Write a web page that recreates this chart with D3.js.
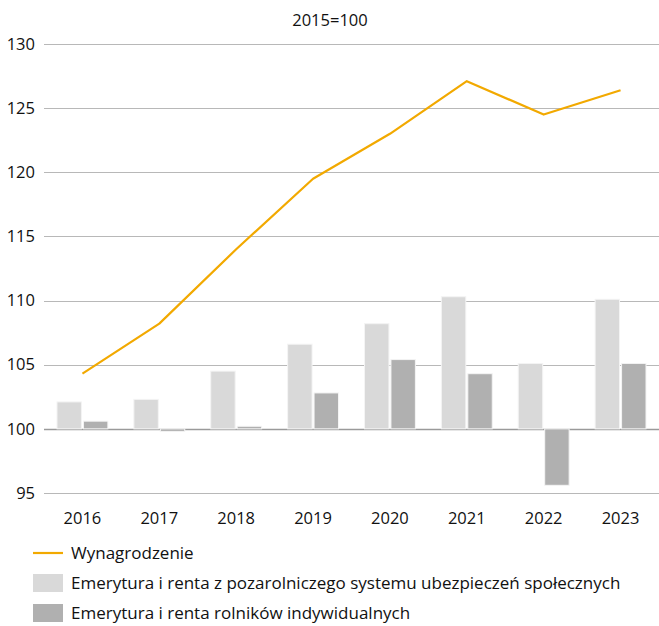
<!DOCTYPE html>
<html>
<head>
<meta charset="utf-8">
<script src="https://cdn.jsdelivr.net/npm/d3@7"></script>
<style>
  body { margin: 0; background: #fff; }
  svg { display: block; font-family: "Open Sans", sans-serif; }
</style>
</head>
<body>
<div id="chart"></div>
<script>
// data
var years = ["2016", "2017", "2018", "2019", "2020", "2021", "2022", "2023"];
var wages = [104.3, 108.2, 114.0, 119.5, 123.0, 127.1, 124.5, 126.4];
var pensionNonAgri = [102.1, 102.3, 104.5, 106.6, 108.2, 110.3, 105.1, 110.1];
var pensionFarmers = [100.6, 99.8, 100.2, 102.8, 105.4, 104.3, 95.6, 105.1];
var yTicks = [95, 100, 105, 110, 115, 120, 125, 130];
var legendLabels = [
    "Wynagrodzenie",
    "Emerytura i renta z pozarolniczego systemu ubezpieczeń społecznych",
    "Emerytura i renta rolników indywidualnych"
];

var width = 659, height = 626;
var margin = {top: 44, right: 0, bottom: 133, left: 44};

var svg = d3.select("#chart").append("svg")
    .attr("width", width)
    .attr("height", height);

var x = d3.scaleBand()
    .domain(years)
    .range([margin.left, width - margin.right]);

var y = d3.scaleLinear()
    .domain([95, 130])
    .range([height - margin.bottom, margin.top]);

// subtitle
svg.append("text")
    .attr("x", 330)
    .attr("y", 26)
    .attr("text-anchor", "middle")
    .style("font-size", "16.5px")
    .style("fill", "#111")
    .text("2015=100");

// gridlines
svg.append("g").selectAll("line")
    .data(yTicks)
    .enter().append("line")
    .attr("x1", margin.left)
    .attr("x2", width - margin.right)
    .attr("y1", function(d){ return Math.round(y(d)) + 0.5; })
    .attr("y2", function(d){ return Math.round(y(d)) + 0.5; })
    .style("stroke", function(d){ return d == 100 ? "#9a9a9a" : "#b8b8b8"; })
    .style("stroke-width", function(d){ return d == 100 ? 1.5 : 1; });

// y tick labels
svg.append("g").selectAll("text")
    .data(yTicks)
    .enter().append("text")
    .attr("x", 35)
    .attr("y", function(d){ return y(d); })
    .attr("dy", "0.35em")
    .attr("text-anchor", "end")
    .style("font-size", "16.5px")
    .style("fill", "#111")
    .text(function(d){ return d; });

// bars
var pad = 13, gap = 2;
var barW = (x.bandwidth() - 2 * pad - gap) / 2;

function drawBars(values, offset, color) {
    svg.append("g").selectAll("rect")
        .data(values)
        .enter().append("rect")
        .attr("x", function(d, i){ return x(years[i]) + pad + offset; })
        .attr("width", barW)
        .attr("y", function(d){ return y(Math.max(d, 100)); })
        .attr("height", function(d){ return Math.abs(y(d) - y(100)); })
        .style("fill", color)
        .style("stroke", "#f4f4f4")
        .style("stroke-width", 1);
}
drawBars(pensionNonAgri, 0, "#d9d9d9");
drawBars(pensionFarmers, barW + gap, "#b0b0b0");

// wage line
var line = d3.line()
    .x(function(d, i){ return x(years[i]) + x.bandwidth() / 2; })
    .y(function(d){ return y(d); });

svg.append("path")
    .datum(wages)
    .attr("d", line)
    .style("fill", "none")
    .style("stroke", "#f2a900")
    .style("stroke-width", 2.2)
    .style("stroke-linejoin", "round");

// x labels
svg.append("g").selectAll("text")
    .data(years)
    .enter().append("text")
    .attr("x", function(d){ return x(d) + x.bandwidth() / 2; })
    .attr("y", 524)
    .attr("text-anchor", "middle")
    .style("font-size", "16.5px")
    .style("fill", "#111")
    .text(function(d){ return d; });

// legend
var legend = svg.append("g");
var legendY = [553, 583, 613];
legend.append("line")
    .attr("x1", 33).attr("x2", 63)
    .attr("y1", legendY[0]).attr("y2", legendY[0])
    .style("stroke", "#f2a900")
    .style("stroke-width", 2.2);
legend.append("rect")
    .attr("x", 33).attr("y", legendY[1] - 9)
    .attr("width", 30).attr("height", 18)
    .style("fill", "#d9d9d9");
legend.append("rect")
    .attr("x", 33).attr("y", legendY[2] - 9)
    .attr("width", 30).attr("height", 18)
    .style("fill", "#b0b0b0");

legend.selectAll("text")
    .data(legendLabels)
    .enter().append("text")
    .attr("x", 71)
    .attr("y", function(d, i){ return legendY[i]; })
    .attr("dy", "0.35em")
    .style("font-size", "17px")
    .style("fill", "#111")
    .text(function(d){ return d; });
</script>
</body>
</html>
